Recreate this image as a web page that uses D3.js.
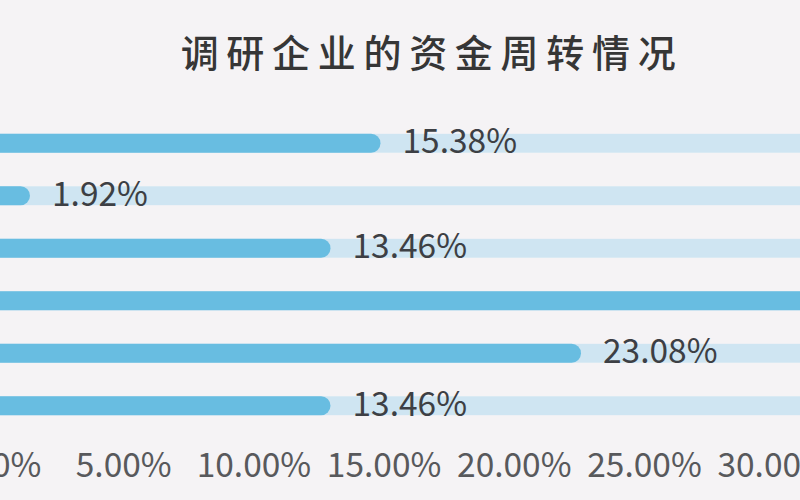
<!DOCTYPE html>
<html>
<head>
<meta charset="utf-8">
<script src="https://cdn.jsdelivr.net/npm/d3@7"></script>
<style>
  html, body { margin: 0; padding: 0; background: #f5f3f5; }
  svg { display: block; }
</style>
</head>
<body>
<svg id="chart" width="800" height="500"></svg>
<script>
const title = "调研企业的资金周转情况";
const categories = ["A", "B", "C", "D", "E", "F"];
const values = [15.38, 1.92, 13.46, 32.69, 23.08, 13.46];
const tickValues = [0, 5, 10, 15, 20, 25, 30];

const W = 800, H = 500;
const svg = d3.select("#chart");
svg.append("rect").attr("width", W).attr("height", H).attr("fill", "#f5f3f5");

const x = d3.scaleLinear().domain([0, 35]).range([-20, -20 + 26.04 * 35]);
const y = d3.scaleBand().domain(categories).range([117, 432]).paddingInner(0.64).paddingOuter(0.32);

const barH = y.bandwidth();

// tracks
svg.append("g").selectAll("rect").data(categories).join("rect")
  .attr("x", x(0) - 30)
  .attr("y", d => y(d))
  .attr("width", x(35) - x(0) + 30)
  .attr("height", barH)
  .attr("fill", "#cfe5f2");

// bars
svg.append("g").selectAll("rect").data(values).join("rect")
  .attr("x", x(0) - 30)
  .attr("y", (d, i) => y(categories[i]))
  .attr("width", d => x(d) - x(0) + 30)
  .attr("height", barH)
  .attr("rx", barH / 2)
  .attr("fill", "#68bde1");

// value labels
svg.append("g").selectAll("text").data(values).join("text")
  .attr("x", d => x(d) + 22)
  .attr("y", (d, i) => y(categories[i]) + barH / 2)
  .attr("dy", "0.3em")
  .attr("font-family", "'Noto Sans CJK SC', 'Noto Sans', sans-serif")
  .attr("font-size", 33.5)
  .attr("fill", "#3d3f44")
  .text(d => d.toFixed(2) + "%");

// axis
const axis = d3.axisBottom(x).tickValues(tickValues).tickSize(0).tickPadding(0)
  .tickFormat(d => d.toFixed(2) + "%");
const gAxis = svg.append("g").attr("transform", "translate(13,466)").call(axis);
gAxis.select(".domain").remove();
gAxis.selectAll("text")
  .attr("dy", "0.34em").attr("y", 0)
  .attr("font-family", "'Noto Sans CJK SC', 'Noto Sans', sans-serif")
  .attr("font-size", 33.5)
  .attr("fill", "#58595c");

// title
svg.append("text")
  .attr("x", 432).attr("y", 53)
  .attr("dy", "0.36em")
  .attr("text-anchor", "middle")
  .attr("font-family", "'Noto Sans CJK SC', sans-serif")
  .attr("font-size", 38)
  .attr("font-weight", 500)
  .attr("letter-spacing", 7.7)
  .attr("fill", "#363636")
  .text(title);
</script>
</body>
</html>
